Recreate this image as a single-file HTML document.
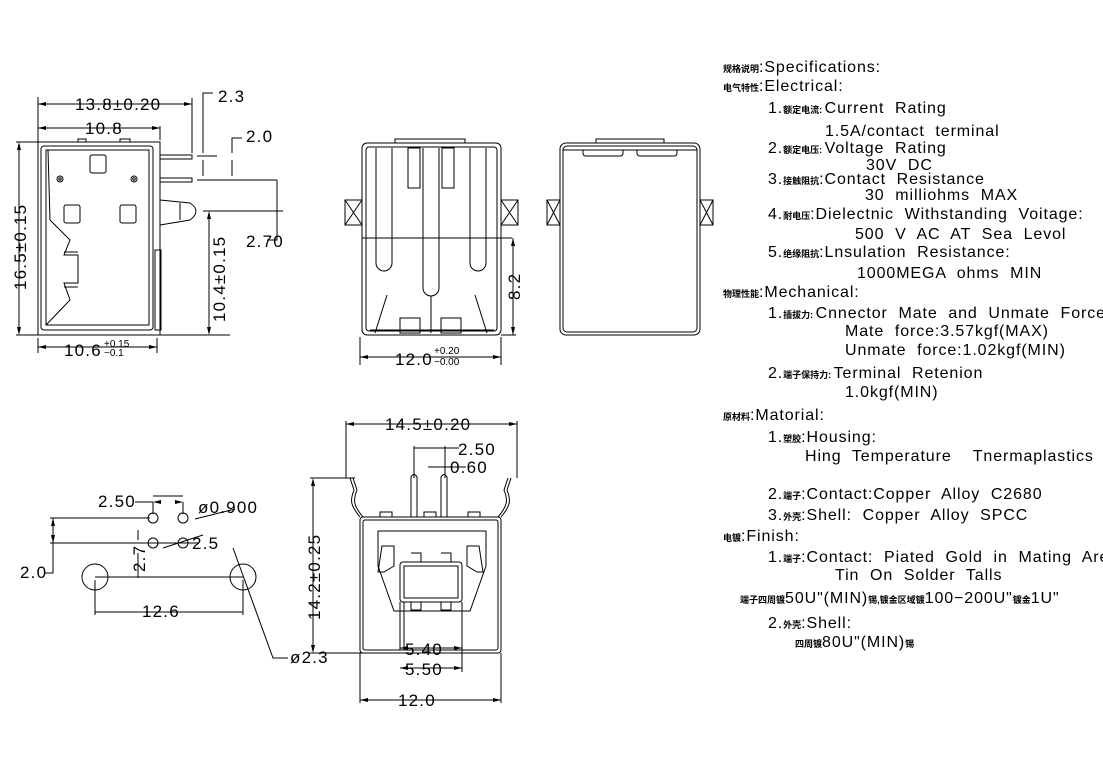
<!DOCTYPE html>
<html><head><meta charset="utf-8"><style>
html,body{margin:0;padding:0;background:#fff;}
svg{display:block;}
text{font-family:"Liberation Sans","Noto Sans CJK SC",sans-serif;fill:#000;white-space:pre;}
.d{font-size:17px;letter-spacing:1.2px;}
.s{font-size:16px;letter-spacing:0.9px;}
.c{font-size:9px;font-weight:bold;letter-spacing:0;}
</style></head><body>
<svg width="1103" height="757" viewBox="0 0 1103 757" xmlns="http://www.w3.org/2000/svg" xml:space="preserve">
<g fill="none" stroke="#000" stroke-width="1">
<!-- SIDE VIEW -->
<rect x="38" y="142" width="122" height="193"/>
<rect x="41" y="146" width="112" height="184" rx="3"/>
<rect x="46" y="150" width="103" height="175"/>
<path d="M78 142v-3h8v3M120 142v-3h10v3"/>
<rect x="90" y="155" width="16" height="18" rx="2"/>
<rect x="64" y="205" width="16" height="18" rx="2"/>
<rect x="120" y="205" width="16" height="18" rx="2"/>
<circle cx="60" cy="179" r="3"/><circle cx="60" cy="179" r="1.2"/>
<circle cx="134" cy="179" r="3"/><circle cx="134" cy="179" r="1.2"/>
<path d="M48 150 L50 220 L70 240 L64 255 L78 255 L78 283 L64 283 L70 300 L46 325"/>
<path d="M64 252h14M64 287h14"/>
<path d="M160 155h32v4h-32M160 178h32v4h-32"/>
<path d="M160 200 L190 203 Q202 211 190 220 L160 225"/>
<path d="M180 203v17"/>
<rect x="155" y="250" width="6" height="80"/>
<!-- side dims -->
<path d="M38 142v-45M192 153v-55M38 104h154M38 128h122M160 140v-14"/>
<path d="M203 153v-60h10M232 153v-15h10M197 156h20M197 180h45M203 160v16M232 160v16"/>
<path d="M203 211h80M277 180h-60M277 180v60h-10M209 215v118M160 335h70M16 142h25M16 335h25M19 145v187"/>
<path d="M38 338v15M157 338v15M38 347h119"/>
<g fill="#000" stroke="none">
<path d="M38 104l8-2v4zM192 104l-8-2v4zM38 128l8-2v4zM160 128l-8-2v4zM19 142l-2 8h4zM19 335l-2-8h4zM209 211l-2 8h4zM209 335l-2-8h4zM38 347l8-2v4zM157 347l-8-2v4z"/>
</g>
<!-- FRONT VIEW -->
<rect x="362" y="143" width="139" height="192" rx="5"/>
<rect x="366" y="147" width="131" height="184" rx="3"/>
<path d="M395 143v-4h70v4"/>
<path d="M345 200h17v25h-17zM345 200l17 25M345 225l17-25M501 200h17v25h-17z"/>
<path d="M518 200l-17 25M518 225l-17-25"/>
<path d="M376 148v115a8 8 0 0 0 16 0v-115M470 148v115a8 8 0 0 0 16 0v-115"/>
<path d="M423 148v140a8 8 0 0 0 16 0v-140"/>
<rect x="408" y="148" width="12" height="40"/><rect x="442" y="148" width="12" height="40"/>
<path d="M362 238h150M431 296v37"/>
<rect x="400" y="318" width="20" height="15"/><rect x="441" y="318" width="20" height="15"/>
<path d="M387 295l-12 38M475 295l12 38M370 330h124"/>
<path d="M513 238v97M501 335h15M360 337v28M501 337v28M360 357h141"/>
<g fill="#000" stroke="none"><path d="M513 238l-2 8h4zM513 335l-2-8h4zM360 357l8-2v4zM501 357l-8-2v4z"/></g>
<!-- BACK VIEW -->
<rect x="560" y="143" width="140" height="192" rx="6"/>
<rect x="563" y="146" width="134" height="186" rx="4"/>
<path d="M596 143v-4h68v4"/>
<path d="M563 150h134"/>
<path d="M583 150v3q0 3 3 3h34q3 0 3-3v-3M637 150v3q0 3 3 3h34q3 0 3-3v-3"/>
<path d="M547 200h13v25h-13zM547 200l13 25M547 225l13-25M700 200h13v25h-13zM713 200l-13 25M713 225l-13-25"/>
<!-- PCB LAYOUT -->
<circle cx="153" cy="518" r="5"/><circle cx="183" cy="518" r="5"/>
<circle cx="153" cy="543" r="5"/><circle cx="183" cy="543" r="5"/>
<circle cx="95" cy="577" r="13"/><circle cx="243" cy="577" r="13"/>
<path d="M135 502h18M153 502v12M183 502v12M153 496h30M50 518h100M50 543h148M53 518v55h-8M163 548l40-13M195 519l40-10"/>
<path d="M138 530v10M138 578v-25M95 577h148M95 580v35M243 580v35M95 612h148M233 548l40 110h15"/>
<g fill="#000" stroke="none"><path d="M153 502l8-2v4zM183 502l-8-2v4zM53 518l-2 8h4zM53 543l-2-8h4z"/></g>
<!-- BOTTOM VIEW -->
<rect x="360" y="517" width="141" height="136" rx="3"/>
<rect x="363" y="520" width="135" height="130" rx="2"/>
<path d="M378 531h108v35l-16 45h-76l-16-45z" />
<rect x="400" y="562" width="62" height="40" rx="3"/>
<rect x="404" y="566" width="54" height="32"/>
<path d="M411 553h10v9h-10M441 553h10v9h-10M411 602v8h10v-8M441 602v8h10v-8"/>
<path d="M382 546h12v20l-10 6h-6zM479 546h-12v20l10 6h6z"/>
<path d="M360 517 C350 505 350 500 354 490 L350 478M501 517 C511 505 511 500 507 490 L511 478"/>
<path d="M363 517 C353 505 353 500 357 490 L353 478M498 517 C508 505 508 500 504 490 L508 478"/>
<path d="M411 517v-40q3-5 6 0v40M441 517v-40q3-5 6 0v40"/>
<rect x="380" y="512" width="12" height="5"/><rect x="424" y="512" width="12" height="5"/><rect x="468" y="512" width="12" height="5"/>
<path d="M346 478v-57M517 478v-57M346 424h171M414 478v-32M445 478v-32M414 448h45M428 467h38M443 467h2"/>
<path d="M310 478h45M310 653h53M313 480v171M400 602v48M462 602v70M404 602v48M400 648h62M400 668h62M360 653v50M501 653v50M360 700h141"/>
<g fill="#000" stroke="none"><path d="M346 424l8-2v4zM517 424l-8-2v4zM313 478l-2 8h4zM313 653l-2-8h4zM400 648l8-2v4zM462 648l-8-2v4zM400 668l8-2v4zM462 668l-8-2v4zM360 700l8-2v4zM501 700l-8-2v4z"/></g>
</g>
<!-- dimension texts -->
<g class="d">
<text x="75" y="110">13.8±0.20</text>
<text x="85" y="134">10.8</text>
<text x="218" y="102">2.3</text>
<text x="246" y="142">2.0</text>
<text x="246" y="247">2.70</text>
<text transform="translate(26,290) rotate(-90)">16.5±0.15</text>
<text transform="translate(225,322) rotate(-90)">10.4±0.15</text>
<text x="64" y="356">10.6</text>
<text x="104" y="347" font-size="10" letter-spacing="0">+0.15</text>
<text x="104" y="356" font-size="10" letter-spacing="0">−0.1</text>
<text x="395" y="365">12.0</text>
<text x="434" y="354" font-size="10" letter-spacing="0">+0.20</text>
<text x="434" y="365" font-size="10" letter-spacing="0">−0.00</text>
<text transform="translate(520,300) rotate(-90)">8.2</text>
<text x="98" y="507">2.50</text>
<text x="198" y="513">ø0.900</text>
<text x="192" y="549">2.5</text>
<text x="20" y="578">2.0</text>
<text transform="translate(145,572) rotate(-90)">2.7</text>
<text x="142" y="617">12.6</text>
<text x="290" y="663">ø2.3</text>
<text x="385" y="430">14.5±0.20</text>
<text x="458" y="455">2.50</text>
<text x="450" y="473">0.60</text>
<text transform="translate(320,620) rotate(-90)">14.2±0.25</text>
<text x="405" y="655">5.40</text>
<text x="405" y="675">5.50</text>
<text x="398" y="706">12.0</text>
</g>
<!-- spec text -->
<g class="s">
<text x="723" y="72"><tspan class="c">规格说明</tspan>:Specifications:</text>
<text x="723" y="91"><tspan class="c">电气特性</tspan>:Electrical:</text>
<text x="768" y="113">1.<tspan class="c">额定电流: </tspan>Current  Rating</text>
<text x="825" y="136">1.5A/contact  terminal</text>
<text x="768" y="153">2.<tspan class="c">额定电压: </tspan>Voltage  Rating</text>
<text x="866" y="170">30V  DC</text>
<text x="768" y="184">3.<tspan class="c">接触阻抗</tspan>:Contact  Resistance</text>
<text x="865" y="200">30  milliohms  MAX</text>
<text x="768" y="219">4.<tspan class="c">耐电压</tspan>:Dielectnic  Withstanding  Voitage:</text>
<text x="855" y="239">500  V  AC  AT  Sea  Levol</text>
<text x="768" y="257">5.<tspan class="c">绝缘阻抗</tspan>:Lnsulation  Resistance:</text>
<text x="857" y="278">1000MEGA  ohms  MIN</text>
<text x="723" y="297"><tspan class="c">物理性能</tspan>:Mechanical:</text>
<text x="768" y="318">1.<tspan class="c">插拔力: </tspan>Cnnector  Mate  and  Unmate  Force</text>
<text x="845" y="336">Mate  force:3.57kgf(MAX)</text>
<text x="845" y="355">Unmate  force:1.02kgf(MIN)</text>
<text x="768" y="378">2.<tspan class="c">端子保持力: </tspan>Terminal  Retenion</text>
<text x="845" y="397">1.0kgf(MIN)</text>
<text x="723" y="420"><tspan class="c">原材料</tspan>:Matorial:</text>
<text x="768" y="442">1.<tspan class="c">塑胶</tspan>:Housing:</text>
<text x="805" y="461">Hing  Temperature    Tnermaplastics</text>
<text x="768" y="499">2.<tspan class="c">端子</tspan>:Contact:Copper  Alloy  C2680</text>
<text x="768" y="520">3.<tspan class="c">外壳</tspan>:Shell:  Copper  Alloy  SPCC</text>
<text x="723" y="541"><tspan class="c">电镀</tspan>:Finish:</text>
<text x="768" y="562">1.<tspan class="c">端子</tspan>:Contact:  Piated  Gold  in  Mating  Area</text>
<text x="835" y="580">Tin  On  Solder  Talls</text>
<text x="740" y="603"><tspan class="c">端子四周镀</tspan>50U"(MIN)<tspan class="c">锡,镀金区域镀</tspan>100−200U"<tspan class="c">镀金</tspan>1U"</text>
<text x="768" y="628">2.<tspan class="c">外壳</tspan>:Shell:</text>
<text x="795" y="647"><tspan class="c">四周镀</tspan>80U"(MIN)<tspan class="c">锡</tspan></text>
</g>
</svg>
</body></html>
